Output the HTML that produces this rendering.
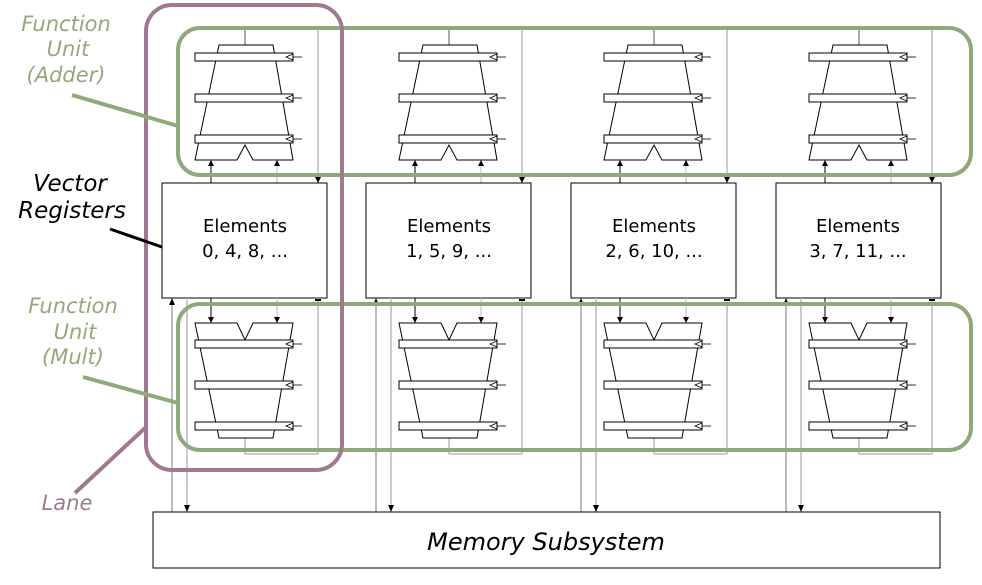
<!DOCTYPE html>
<html><head><style>html,body{margin:0;padding:0;background:#fff}svg{display:block}</style></head>
<body>
<svg width="982" height="585" viewBox="0 0 982 585" xmlns="http://www.w3.org/2000/svg">
<defs>
<g id="lane">
  <line x1="83" y1="30" x2="83" y2="45" stroke="#555" stroke-width="1"/>
  <line x1="156" y1="30" x2="156" y2="178" stroke="#bbb" stroke-width="1.5"/>
  <polygon points="153,177 159,177 156,183" fill="#000"/>
  <polygon points="57,45 111,45 131,160 91,160 83,145 75,160 33,160" fill="#fff" stroke="#000" stroke-width="1"/>
  <g fill="#fff" stroke="#000" stroke-width="1">
    <rect x="33" y="53" width="98" height="8"/><rect x="33" y="94" width="98" height="8"/><rect x="33" y="135" width="98" height="8"/>
  </g>
  <g fill="none" stroke="#000" stroke-width="0.8">
    <polyline points="131,54 124,57 131,60"/><polyline points="131,95 124,98 131,101"/><polyline points="131,136 124,139 131,142"/>
    <line x1="131" y1="57" x2="140" y2="57"/><line x1="131" y1="98" x2="140" y2="98"/><line x1="131" y1="139" x2="140" y2="139"/>
  </g>
  <line x1="49" y1="183" x2="49" y2="165" stroke="#000" stroke-width="1"/>
  <polygon points="46,166 52,166 49,160" fill="#000"/>
  <line x1="115" y1="183" x2="115" y2="165" stroke="#bbb" stroke-width="1"/>
  <polygon points="112,166 118,166 115,160" fill="#000"/>
  <rect x="0" y="183" width="165" height="115" fill="#fff" stroke="#000" stroke-width="1"/>
  <line x1="49" y1="298" x2="49" y2="318" stroke="#000" stroke-width="1"/>
  <polygon points="46,317 52,317 49,323" fill="#000"/>
  <line x1="115" y1="298" x2="115" y2="318" stroke="#bbb" stroke-width="1"/>
  <polygon points="112,317 118,317 115,323" fill="#000"/>
  <polyline points="156,298 156,454 83,454 83,438" fill="none" stroke="#bbb" stroke-width="1.5"/>
  <line x1="153" y1="300" x2="159" y2="300" stroke="#000" stroke-width="2"/>
  <polygon points="33,323 75,323 83,340 91,323 131,323 111,438 57,438" fill="#fff" stroke="#000" stroke-width="1"/>
  <g fill="#fff" stroke="#000" stroke-width="1">
    <rect x="33" y="340" width="98" height="8"/><rect x="33" y="381" width="98" height="8"/><rect x="33" y="422" width="98" height="8"/>
  </g>
  <g fill="none" stroke="#000" stroke-width="0.8">
    <polyline points="131,341 124,344 131,347"/><polyline points="131,382 124,385 131,388"/><polyline points="131,423 124,426 131,429"/>
    <line x1="131" y1="344" x2="140" y2="344"/><line x1="131" y1="385" x2="140" y2="385"/><line x1="131" y1="426" x2="140" y2="426"/>
  </g>
  <line x1="10" y1="512" x2="10" y2="304" stroke="#777" stroke-width="1"/>
  <polygon points="7,305 13,305 10,298" fill="#000"/>
  <line x1="25" y1="298" x2="25" y2="506" stroke="#bbb" stroke-width="1.5"/>
  <polygon points="22,505 28,505 25,512" fill="#000"/>
</g>
</defs>
<use href="#lane" x="162"/>
<use href="#lane" x="366"/>
<use href="#lane" x="571"/>
<use href="#lane" x="776"/>

<rect x="153" y="512" width="787" height="56" fill="#fff" stroke="#000" stroke-width="1"/>
<text x="546" y="550" text-anchor="middle" font-family="DejaVu Sans, sans-serif" font-style="italic" font-size="24">Memory Subsystem</text>

<g font-family="DejaVu Sans, sans-serif" font-size="18" text-anchor="middle" fill="#000">
  <text x="245" y="232">Elements</text><text x="245" y="257">0, 4, 8, ...</text>
  <text x="449" y="232">Elements</text><text x="449" y="257">1, 5, 9, ...</text>
  <text x="654" y="232">Elements</text><text x="654" y="257">2, 6, 10, ...</text>
  <text x="858" y="232">Elements</text><text x="858" y="257">3, 7, 11, ...</text>
</g>

<rect x="178" y="28" width="793" height="147" rx="22" fill="none" stroke="#8fa97a" stroke-width="4"/>
<rect x="178" y="304" width="793" height="146" rx="22" fill="none" stroke="#8fa97a" stroke-width="4"/>
<rect x="146" y="5" width="196" height="465" rx="26" fill="none" stroke="#9e7a90" stroke-width="4"/>

<line x1="72" y1="95" x2="178" y2="126" stroke="#8fa97a" stroke-width="4"/>
<line x1="110" y1="229" x2="162" y2="247" stroke="#000" stroke-width="3"/>
<line x1="83" y1="377" x2="178" y2="403" stroke="#8fa97a" stroke-width="4"/>
<line x1="75" y1="493" x2="145" y2="428" stroke="#9e7a90" stroke-width="4"/>

<g font-family="DejaVu Sans, sans-serif" font-style="italic" font-size="21" text-anchor="middle" fill="#93a87c">
  <text x="66" y="31">Function</text><text x="68" y="56">Unit</text><text x="66" y="82">(Adder)</text>
  <text x="73" y="313">Function</text><text x="75" y="339">Unit</text><text x="73" y="364">(Mult)</text>
</g>
<g font-family="DejaVu Sans, sans-serif" font-style="italic" font-size="23" text-anchor="middle" fill="#000">
  <text x="70" y="191">Vector</text><text x="72" y="218">Registers</text>
</g>
<text x="67" y="510" text-anchor="middle" font-family="DejaVu Sans, sans-serif" font-style="italic" font-size="21" fill="#9e7a90">Lane</text>
</svg>
</body></html>
